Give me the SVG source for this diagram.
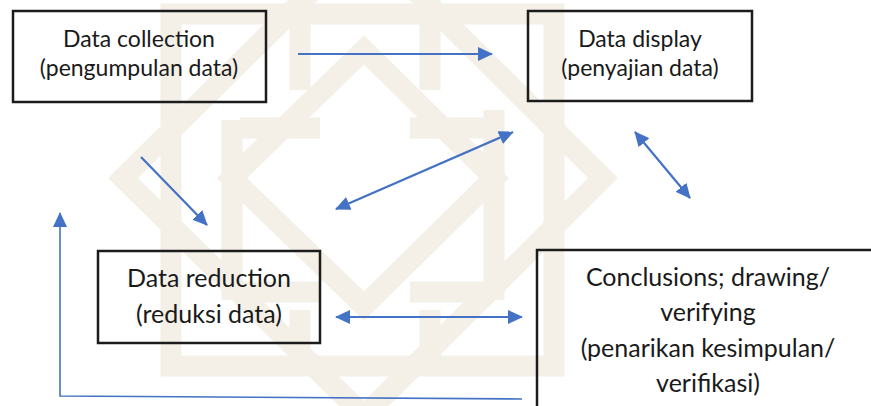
<svg xmlns="http://www.w3.org/2000/svg" width="871" height="406" viewBox="0 0 871 406">
  <style>
    .box { fill: none; stroke: #1c1c1c; stroke-width: 2.5; }
    .lbl { font-family: Lato, "Open Sans", "Liberation Sans", sans-serif; fill: #1a1a1a; text-anchor: middle; }
    .s24 { font-size: 23px; }
    .s26 { font-size: 25px; }
    .con { fill: none; stroke: #4472c4; stroke-width: 2.2; }
    .thin { stroke-width: 1.6; }
    .wm { fill: none; stroke: #f4f0e8; stroke-width: 21; stroke-linejoin: miter; }
  </style>
  <defs>
    <marker id="arrow" viewBox="0 0 15 14" refX="14" refY="7" markerWidth="15" markerHeight="14" markerUnits="userSpaceOnUse" orient="auto-start-reverse">
      <path d="M0,0 L15,7 L0,14 z" fill="#4472c4"/>
    </marker>
  </defs>

  <rect width="871" height="406" fill="#ffffff"/>

  <!-- faint geometric background ornament -->
  <g id="ornament">
    <rect class="wm" x="171" y="14" width="383" height="352"/>
    <path class="wm" d="M123,178 L364,-60 L603,178 L364,416 Z"/>
    <path class="wm" d="M232,178 L364,50 L494,178 L364,306 Z"/>
    <path class="wm" d="M232,120 L232,300 M494,110 L494,300 M240,128 L320,128 M410,128 L486,128 M240,292 L320,292 M410,292 L486,292"/>
    <path class="wm" d="M300,0 L300,90 M430,0 L430,90 M300,310 L300,366 M430,310 L430,366"/>
  </g>

  <g id="data-collection">
    <rect class="box" x="13" y="11" width="253" height="91"/>
    <text class="lbl s24" x="139" y="47">Data collection</text>
    <text class="lbl s24" x="139" y="76">(pengumpulan data)</text>
  </g>

  <g id="data-display">
    <rect class="box" x="528" y="11" width="224" height="90"/>
    <text class="lbl s24" x="640" y="47">Data display</text>
    <text class="lbl s24" x="640" y="76">(penyajian data)</text>
  </g>

  <g id="data-reduction">
    <rect class="box" x="98" y="251" width="222" height="92"/>
    <text class="lbl s26" x="209" y="287">Data reduction</text>
    <text class="lbl s26" x="209" y="323">(reduksi data)</text>
  </g>

  <g id="conclusions">
    <rect class="box" x="537" y="250" width="400" height="200"/>
    <text class="lbl s26" x="708" y="286">Conclusions; drawing/</text>
    <text class="lbl s26" x="708" y="321">verifying</text>
    <text class="lbl s26" x="708" y="357">(penarikan kesimpulan/</text>
    <text class="lbl s26" x="708" y="392">verifikasi)</text>
  </g>

  <g id="connectors">
    <path class="con" d="M298,54 L492,54" marker-end="url(#arrow)"/>
    <path class="con" d="M141,157 L207,225" marker-end="url(#arrow)"/>
    <path class="con" d="M336,209 L513,132" marker-start="url(#arrow)" marker-end="url(#arrow)"/>
    <path class="con" d="M635,132 L690,198" marker-start="url(#arrow)" marker-end="url(#arrow)"/>
    <path class="con" d="M336,317 L522,317" marker-start="url(#arrow)" marker-end="url(#arrow)"/>
    <path class="con thin" d="M522,399 L60,396 L60,213" marker-end="url(#arrow)"/>
  </g>
</svg>
